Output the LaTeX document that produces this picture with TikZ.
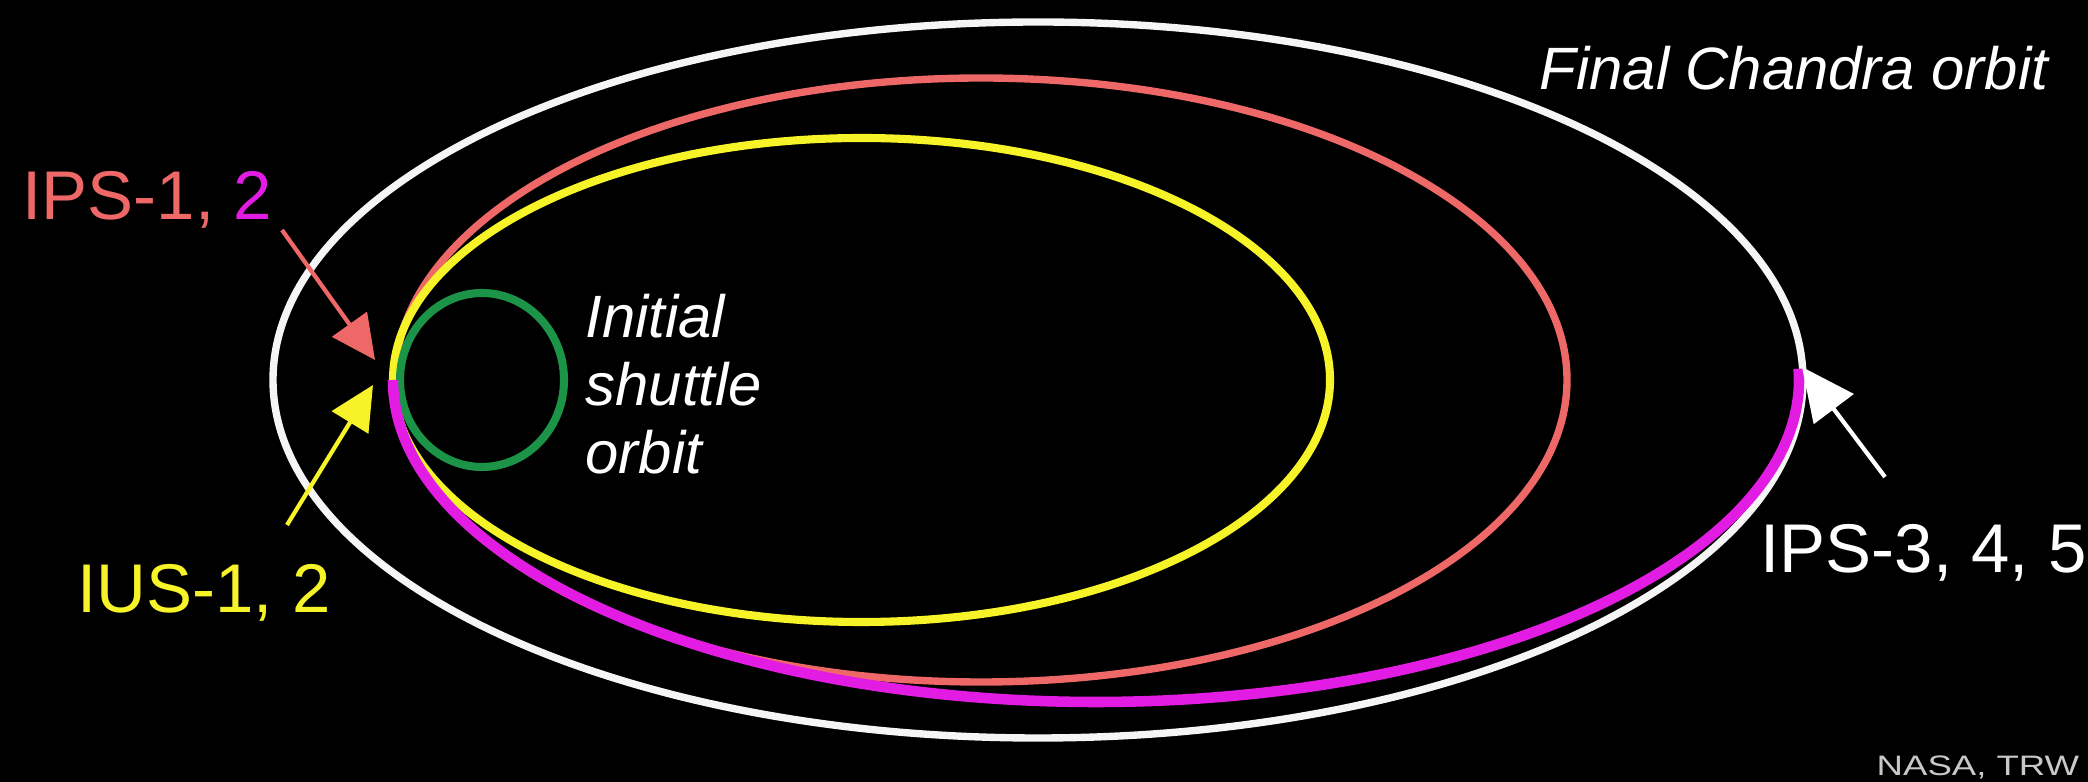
\documentclass[tikz,border=0pt]{standalone}
\usepackage{fontspec}
\setmainfont{Liberation Sans}
\usepackage{graphicx}
\usetikzlibrary{arrows.meta}

\definecolor{orbwhite}{RGB}{245,245,245}
\definecolor{orbsalmon}{RGB}{238,104,104}
\definecolor{orbyellow}{RGB}{246,244,40}
\definecolor{orbmagenta}{RGB}{226,28,226}
\definecolor{orbgreen}{RGB}{28,148,72}
\definecolor{creditgray}{RGB}{200,200,200}

\begin{document}
\begin{tikzpicture}[
    x=0.01cm, y=0.01cm,
    orbit/.style={line width=2.1pt},
    arr/.style={line width=1.2pt, -{Triangle[length=12.5pt, width=12pt]}},
    lbl/.style={inner sep=0pt, anchor=base west, font=\fontsize{19.6}{23}\selectfont},
    note/.style={inner sep=0pt, text=white, font=\fontsize{17}{19.4}\selectfont\itshape},
]

% Background
\fill[black] (0,0) rectangle (2088,782);
\useasboundingbox (0,0) rectangle (2088,782);

% Orbits
\draw[orbit, orbwhite] (1038,402) ellipse [x radius=765, y radius=358];
\draw[orbit, orbsalmon] (981,402) ellipse [x radius=586, y radius=302];
\draw[orbit, orbyellow, line width=2.3pt] (861.5,402) ellipse [x radius=468.5, y radius=242];
\draw[orbit, orbgreen, line width=2.3pt] (482,402) ellipse [x radius=82, y radius=87];

% Transfer half orbit (perigee to apogee)
\draw[orbit, orbmagenta, line width=3pt] (393,402) arc[start angle=180, end angle=362, x radius=703, y radius=322];

% Labels
\node[lbl, text=orbsalmon] (ips12) at (22,562) {IPS-1, \textcolor{orbmagenta}{2}};
\node[lbl, text=orbyellow] (ius12) at (77,169) {IUS-1, 2};
\node[lbl, text=white] (ips345) at (1760,209) {IPS-3, 4, 5};
\node[note, anchor=base west] (final) at (1539,692) {Final Chandra orbit};
\node[note, anchor=north west, align=left] (shuttle) at (585,489) {Initial\\shuttle\\orbit};
\node[inner sep=0pt, anchor=base west, text=creditgray, font=\fontsize{8}{9}\selectfont] (nasa) at (1876,6) {\scalebox{1.3}[1]{NASA, TRW}};

% Burn arrows
\coordinate (ipsTail) at (282,552);
\coordinate (ipsTip) at (375,422);
\coordinate (iusTail) at (287,257);
\coordinate (iusTip) at (373,397);
\coordinate (apoTail) at (1885,305);
\coordinate (apoTip) at (1802,415);

\draw[arr, orbsalmon] (ipsTail) -- (ipsTip);
\draw[arr, orbyellow] (iusTail) -- (iusTip);
\draw[arr, white, -{Triangle[length=15pt, width=14pt]}] (apoTail) -- (apoTip);

\end{tikzpicture}
\end{document}
